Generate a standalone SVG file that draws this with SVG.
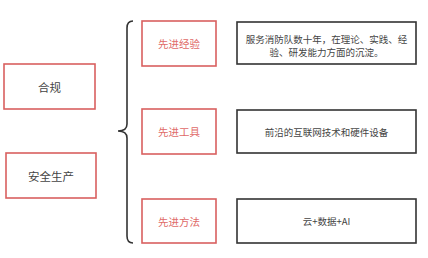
<svg xmlns="http://www.w3.org/2000/svg" width="428" height="258" viewBox="0 0 428 258">
<style>
.bg{fill:#ffffff}
.red{fill:#fff;stroke:#d9605f;stroke-width:1.6}
.blk{fill:#fff;stroke:#333;stroke-width:1.6}
.t{font-family:"Noto Sans CJK SC","Noto Sans",sans-serif;text-anchor:middle;dominant-baseline:central}
.tl{fill:#444;font-size:11.5px}
.tr{fill:#e06a68;font-size:10.5px}
.tb{fill:#444;font-size:9.5px}
.brace{fill:none;stroke:#333;stroke-width:1.6}
</style>
<rect class="bg" width="428" height="258"/>
<g id="connectors">
<path class="brace" d="M133,21 Q127,21 127,28 L127,124 Q127,131 118,131 Q127,131 127,138 L127,236 Q127,243 133,243"/>
</g>
<g id="hegui"><rect class="red" x="4" y="64" width="91" height="45"/><text class="t tl" x="49.5" y="87">合规</text></g>
<g id="anquan"><rect class="red" x="6" y="153" width="90" height="45"/><text class="t tl" x="51" y="176">安全生产</text></g>
<g id="jingyan"><rect class="red" x="142" y="21" width="74" height="45"/><text class="t tr" x="179" y="43.5">先进经验</text></g>
<g id="gongju"><rect class="red" x="142" y="109" width="74" height="45"/><text class="t tr" x="179" y="131.5">先进工具</text></g>
<g id="fangfa"><rect class="red" x="142" y="199" width="74" height="44"/><text class="t tr" x="179" y="221">先进方法</text></g>
<g id="desc1"><rect class="blk" x="237" y="22" width="179" height="42"/><text class="t tb" x="326.5" y="39">服务消防队数十年，在理论、实践、经</text><text class="t tb" x="326.5" y="52">验、研发能力方面的沉淀。</text></g>
<g id="desc2"><rect class="blk" x="237" y="110" width="179" height="43"/><text class="t tb" x="326.5" y="131.5">前沿的互联网技术和硬件设备</text></g>
<g id="desc3"><rect class="blk" x="237" y="199" width="179" height="44"/><text class="t tb" x="326.5" y="221">云+数据+AI</text></g>
</svg>
